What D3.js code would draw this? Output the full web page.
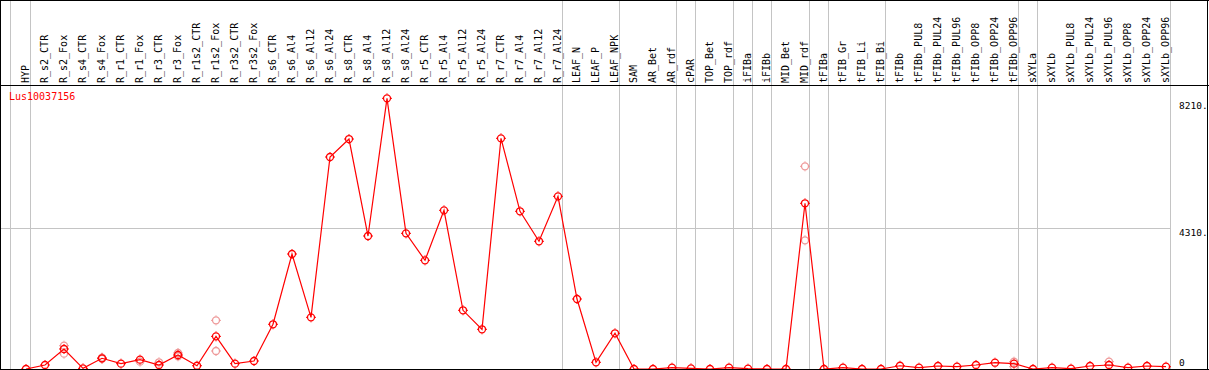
<!DOCTYPE html>
<html lang="en">
<head>
<meta charset="UTF-8" />
<title>Lus10037156</title>
<script src="https://d3js.org/d3.v7.min.js"></script>
<style>
  body { margin: 0; background: #fff; }
  text { font-family: "DejaVu Sans Mono", monospace; }
</style>
</head>
<body>
<div id="chart"></div>
<script>
// sample names (one column each)
const categories = [
  "HYP", "R_s2_CTR", "R_s2_Fox", "R_s4_CTR", "R_s4_Fox", "R_r1_CTR", "R_r1_Fox",
  "R_r3_CTR", "R_r3_Fox", "R_r1s2_CTR", "R_r1s2_Fox", "R_r3s2_CTR", "R_r3s2_Fox",
  "R_s6_CTR", "R_s6_Al4", "R_s6_Al12", "R_s6_Al24", "R_s8_CTR", "R_s8_Al4",
  "R_s8_Al12", "R_s8_Al24", "R_r5_CTR", "R_r5_Al4", "R_r5_Al12", "R_r5_Al24",
  "R_r7_CTR", "R_r7_Al4", "R_r7_Al12", "R_r7_Al24", "LEAF_N", "LEAF_P", "LEAF_NPK",
  "SAM", "AR_Bet", "AR_rdf", "cPAR", "TOP_Bet", "TOP_rdf", "iFIBa", "iFIBb",
  "MID_Bet", "MID_rdf", "tFIBa", "tFIB_Gr", "tFIB_Li", "tFIB_Bi", "tFIBb",
  "tFIBb_PUL8", "tFIBb_PUL24", "tFIBb_PUL96", "tFIBb_OPP8", "tFIBb_OPP24", "tFIBb_OPP96",
  "sXYLa", "sXYLb", "sXYLb_PUL8", "sXYLb_PUL24", "sXYLb_PUL96", "sXYLb_OPP8",
  "sXYLb_OPP24", "sXYLb_OPP96"
];

// mean expression
const meanValues = [
  0, 123, 613, 20, 328, 163, 286, 123, 429, 100, 1000, 163, 245,
  1370, 3523, 1583, 6494, 7045, 4074, 8292, 4156, 3329, 4861, 1798, 1216,
  7067, 4831, 3912, 5290, 2144, 205, 1094,
  0, 0, 40, 20, 0, 40, 10, 0, 0, 5076, 0, 40, 0, 0, 100,
  40, 92, 70, 123, 193, 163,
  0, 40, 10, 92, 123, 40, 92, 70
];

// replicates (null where hidden under the mean marker)
const repA = [
  null, null, 714, null, 350, null, 224, 205, 490, null, 1490, null, null,
  null, null, null, null, null, null, null, null, null, null, null, null,
  null, null, null, null, null, null, null,
  null, null, null, null, null, null, null, null, null, 6209, null, null, null, null, null,
  null, null, null, null, null, 224,
  null, null, null, null, 224, null, null, null
];
const repB = [
  null, null, 469, null, 310, null, null, null, 389, null, 551, null, null,
  null, null, null, null, null, null, null, null, null, null, null, null,
  null, null, null, null, null, null, null,
  null, null, null, null, null, null, null, null, null, 3942, null, null, null, null, null,
  null, null, null, null, null, 70,
  null, null, null, null, null, null, null, null
];

// columns after which a grey separator is drawn
const groupEnds = ["HYP", "R_r7_Al24", "LEAF_NPK", "AR_rdf", "cPAR", "TOP_rdf",
  "iFIBa", "iFIBb", "MID_rdf", "tFIBa", "tFIB_Bi", "tFIBb_OPP96", "sXYLa", "sXYLb_OPP96"];

const yTicks = [8210, 4310, 0];
const yTickLabels = ["8210.", "4310.", "0"];
const title = "Lus10037156";

function renderChart(sel) {
  const W = 1209, H = 370;
  const plotBottom = 369, headerY = 85;

  const svg = d3.select(sel).append("svg")
    .attr("width", W).attr("height", H);

  const x = d3.scalePoint().domain(categories).range([26, 1166]);
  const y = d3.scaleLinear().domain([0, 8210]).range([plotBottom, 101]);
  const gridRight = x(categories[categories.length - 1]) + 4;

  svg.append("defs").append("clipPath").attr("id", "plotclip")
    .append("rect").attr("x", 1).attr("y", headerY + 1)
    .attr("width", W - 3).attr("height", plotBottom - headerY - 1);

  // grey vertical separators
  const sepX = [x(categories[0]) - 16].concat(groupEnds.map(c => x(c) + 4));
  svg.append("g").selectAll("line").data(sepX).enter().append("line")
    .attr("x1", d => Math.round(d) + 0.5).attr("x2", d => Math.round(d) + 0.5)
    .attr("y1", 0).attr("y2", plotBottom)
    .attr("stroke", "#c4c4c4").attr("stroke-width", 1)
    .attr("shape-rendering", "crispEdges");

  // horizontal grid line at middle tick
  svg.append("line")
    .attr("x1", 1).attr("x2", gridRight)
    .attr("y1", Math.round(y(4310)) + 0.5).attr("y2", Math.round(y(4310)) + 0.5)
    .attr("stroke", "#c4c4c4").attr("shape-rendering", "crispEdges");

  // column labels (vertical)
  svg.append("g").selectAll("text").data(categories).enter().append("text")
    .attr("transform", d => `translate(${x(d) + 3},83) rotate(-90)`)
    .attr("font-size", "10px").attr("fill", "#000")
    .text(d => d);

  // title
  svg.append("text").attr("x", 9).attr("y", 100)
    .attr("font-size", "10px").attr("fill", "#ff0000").text(title);

  // right-hand value labels
  svg.append("g").selectAll("text").data(yTicks).enter().append("text")
    .attr("x", 1179)
    .attr("y", d => d === 0 ? y(d) - 3 : y(d) + 8)
    .attr("font-size", "9.5px").attr("fill", "#000")
    .text((d, i) => yTickLabels[i]);

  const plot = svg.append("g").attr("clip-path", "url(#plotclip)");

  function marker(g, cx, cy, color) {
    g.append("circle").attr("cx", cx).attr("cy", cy).attr("r", 3.5)
      .attr("fill", "none").attr("stroke", color).attr("stroke-width", 1.3);
    const t = [[0, -5, 0, -4], [0, 4, 0, 5], [-5, 0, -4, 0], [4, 0, 5, 0]];
    t.forEach(s => g.append("line")
      .attr("x1", cx + s[0]).attr("y1", cy + s[1]).attr("x2", cx + s[2]).attr("y2", cy + s[3])
      .attr("stroke", color).attr("stroke-width", 1));
  }

  // replicate markers
  const reps = [];
  categories.forEach((c, i) => {
    if (repA[i] != null) reps.push([c, repA[i]]);
    if (repB[i] != null) reps.push([c, repB[i]]);
  });
  reps.forEach(r => marker(plot, x(r[0]), y(r[1]), "#ee9999"));

  // line
  const line = d3.line().x((d, i) => x(categories[i])).y(d => y(d));
  plot.append("path").datum(meanValues).attr("d", line)
    .attr("fill", "none").attr("stroke", "#ff0000").attr("stroke-width", 1.2);

  meanValues.forEach((v, i) => marker(plot, x(categories[i]), y(v), "#ff0000"));

  // frame
  const frame = svg.append("g").attr("stroke", "#000").attr("shape-rendering", "crispEdges");
  frame.append("line").attr("x1", 0).attr("x2", W).attr("y1", 0.5).attr("y2", 0.5).attr("stroke-width", 1.5);
  frame.append("line").attr("x1", 0.5).attr("x2", 0.5).attr("y1", 0).attr("y2", H).attr("stroke-width", 1.5);
  frame.append("line").attr("x1", 1207.5).attr("x2", 1207.5).attr("y1", 0).attr("y2", H);
  frame.append("line").attr("x1", 0).attr("x2", W).attr("y1", headerY + 0.5).attr("y2", headerY + 0.5);
  frame.append("line").attr("x1", 0).attr("x2", W).attr("y1", plotBottom + 0.5).attr("y2", plotBottom + 0.5).attr("stroke-width", 1.5);
}

renderChart("#chart");
</script>
</body>
</html>
